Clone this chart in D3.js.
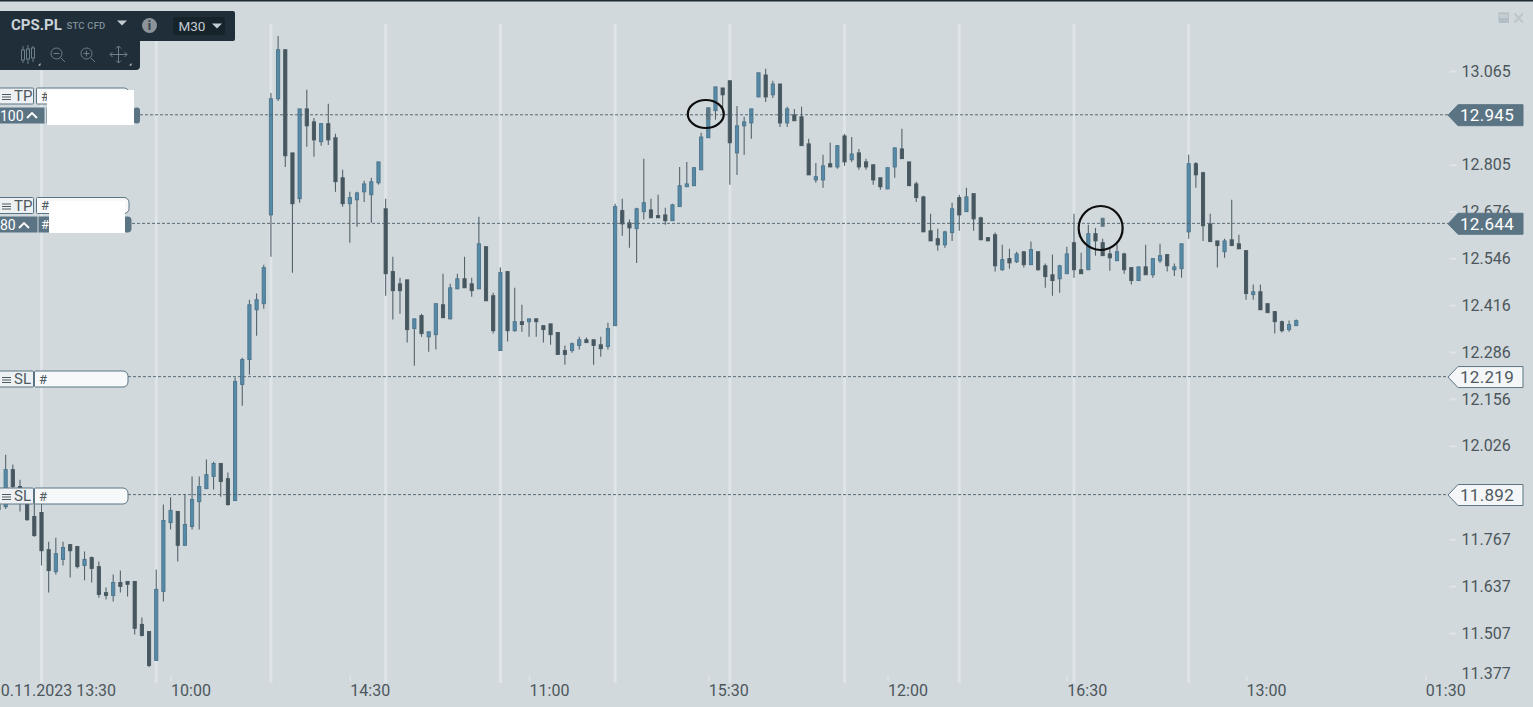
<!DOCTYPE html>
<html><head><meta charset="utf-8">
<script src="https://cdn.jsdelivr.net/npm/d3@7/dist/d3.min.js"></script>
<style>
html,body{margin:0;padding:0;background:#d1d9dd;overflow:hidden}
svg{display:block;font-family:Roboto,sans-serif}
</style></head><body><svg id="c" width="1533" height="707"></svg>
<script>
const firstIndex=-6;
const opens=[11.862,11.857,11.960,11.913,11.868,11.830,11.841,11.738,11.677,11.711,
11.752,11.747,11.694,11.716,11.691,11.619,11.611,11.647,11.650,11.650,
11.531,11.511,11.431,11.622,11.813,11.844,11.750,11.802,11.871,11.907,
11.941,11.977,11.935,11.874,12.196,12.265,12.403,12.420,12.666,12.988,
13.124,12.838,12.711,12.960,12.924,12.869,12.919,12.880,12.769,12.697,
12.708,12.730,12.722,12.755,12.683,12.509,12.475,12.486,12.351,12.387,
12.328,12.334,12.417,12.378,12.461,12.489,12.475,12.461,12.578,12.442,
12.290,12.509,12.345,12.370,12.370,12.378,12.359,12.364,12.340,12.290,
12.290,12.304,12.320,12.320,12.306,12.301,12.359,12.678,12.644,12.628,
12.675,12.680,12.664,12.666,12.650,12.689,12.744,12.747,12.791,12.880,
12.955,13.018,13.038,12.838,12.913,12.921,12.993,13.054,12.999,13.029,
12.921,12.943,12.938,12.863,12.763,12.763,12.808,12.799,12.885,12.819,
12.838,12.813,12.805,12.769,12.738,12.799,12.849,12.813,12.752,12.716,
12.622,12.600,12.583,12.617,12.714,12.675,12.725,12.658,12.603,12.611,
12.514,12.545,12.536,12.564,12.528,12.564,12.525,12.500,12.489,12.503,
12.589,12.514,12.514,12.614,12.589,12.558,12.539,12.558,12.520,12.484,
12.522,12.500,12.539,12.556,12.514,12.517,12.619,12.808,12.783,12.641,
12.594,12.564,12.597,12.586,12.567,12.445,12.453,12.420,12.398,12.370,
12.348,12.359];
const closes=[11.849,11.960,11.913,11.885,11.821,11.777,11.735,11.680,11.727,11.744,
11.735,11.691,11.711,11.686,11.614,11.611,11.647,11.636,11.642,11.520,
11.500,11.417,11.628,11.819,11.847,11.750,11.808,11.877,11.913,11.946,
11.977,11.927,11.863,12.204,12.265,12.417,12.431,12.520,12.988,13.124,
12.830,12.697,12.960,12.913,12.874,12.919,12.874,12.758,12.697,12.714,
12.727,12.752,12.758,12.813,12.503,12.456,12.456,12.348,12.378,12.337,
12.342,12.420,12.381,12.464,12.489,12.464,12.456,12.586,12.428,12.345,
12.506,12.345,12.370,12.362,12.378,12.370,12.348,12.334,12.279,12.279,
12.309,12.320,12.312,12.304,12.295,12.351,12.689,12.641,12.630,12.683,
12.700,12.658,12.658,12.650,12.694,12.747,12.752,12.797,12.882,12.963,
13.021,12.999,12.866,12.913,12.924,12.960,13.060,12.993,13.029,12.921,
12.960,12.927,12.858,12.777,12.772,12.802,12.799,12.858,12.813,12.835,
12.799,12.799,12.763,12.744,12.797,12.852,12.822,12.747,12.714,12.619,
12.594,12.583,12.619,12.683,12.666,12.716,12.655,12.597,12.594,12.525,
12.542,12.533,12.558,12.528,12.570,12.514,12.495,12.484,12.525,12.558,
12.514,12.503,12.614,12.594,12.553,12.547,12.564,12.514,12.484,12.522,
12.500,12.545,12.553,12.525,12.522,12.586,12.808,12.777,12.636,12.592,
12.581,12.594,12.581,12.572,12.448,12.453,12.403,12.395,12.370,12.345,
12.362,12.373];
const highs=[11.862,12.001,11.974,11.932,11.904,11.868,11.868,11.760,11.771,11.760,
11.752,11.747,11.733,11.719,11.705,11.633,11.669,11.680,11.650,11.650,
11.550,11.511,11.683,11.863,11.883,11.844,11.891,11.941,11.941,11.988,
11.982,11.977,11.952,12.215,12.270,12.431,12.448,12.528,13.004,13.162,
13.124,12.838,12.960,13.013,12.935,12.921,12.974,12.891,12.791,12.730,
12.730,12.761,12.769,12.813,12.711,12.550,12.492,12.486,12.378,12.392,
12.342,12.420,12.503,12.475,12.503,12.550,12.492,12.661,12.578,12.450,
12.520,12.509,12.464,12.417,12.378,12.378,12.359,12.364,12.340,12.304,
12.312,12.328,12.326,12.320,12.328,12.367,12.697,12.711,12.653,12.686,
12.822,12.711,12.722,12.686,12.697,12.799,12.813,12.797,12.894,12.963,
13.021,13.018,13.038,12.968,12.938,12.960,13.060,13.071,13.038,13.029,
12.966,12.960,12.966,12.877,12.810,12.833,12.866,12.860,12.891,12.882,
12.849,12.822,12.805,12.769,12.797,12.852,12.905,12.813,12.758,12.719,
12.669,12.628,12.622,12.700,12.722,12.741,12.725,12.661,12.605,12.617,
12.583,12.572,12.564,12.564,12.592,12.564,12.531,12.556,12.528,12.578,
12.669,12.561,12.639,12.630,12.600,12.572,12.592,12.561,12.520,12.522,
12.583,12.545,12.586,12.558,12.531,12.586,12.833,12.813,12.786,12.669,
12.594,12.600,12.708,12.611,12.567,12.473,12.473,12.420,12.398,12.373,
12.373,12.376];
const lows=[11.849,11.851,11.904,11.844,11.818,11.774,11.694,11.619,11.669,11.694,
11.661,11.686,11.653,11.647,11.605,11.600,11.594,11.619,11.608,11.503,
11.497,11.412,11.431,11.594,11.794,11.705,11.750,11.794,11.794,11.907,
11.905,11.885,11.860,11.874,12.137,12.223,12.331,12.406,12.550,12.982,
12.799,12.506,12.700,12.855,12.827,12.858,12.860,12.730,12.689,12.589,
12.633,12.702,12.644,12.750,12.442,12.376,12.392,12.312,12.248,12.328,
12.287,12.293,12.381,12.376,12.461,12.464,12.439,12.461,12.428,12.337,
12.290,12.315,12.342,12.342,12.328,12.328,12.312,12.306,12.279,12.251,
12.284,12.293,12.312,12.251,12.273,12.293,12.359,12.608,12.575,12.533,
12.653,12.658,12.658,12.639,12.650,12.689,12.744,12.747,12.791,12.880,
12.930,12.949,12.750,12.777,12.833,12.877,12.993,12.979,12.990,12.910,
12.910,12.927,12.858,12.777,12.755,12.741,12.799,12.794,12.802,12.813,
12.791,12.791,12.750,12.736,12.738,12.769,12.822,12.747,12.702,12.619,
12.594,12.567,12.575,12.594,12.622,12.675,12.622,12.597,12.594,12.509,
12.511,12.517,12.533,12.520,12.528,12.511,12.464,12.442,12.450,12.503,
12.492,12.503,12.514,12.553,12.553,12.511,12.539,12.503,12.473,12.484,
12.500,12.492,12.533,12.509,12.497,12.492,12.600,12.741,12.594,12.592,
12.520,12.547,12.581,12.572,12.431,12.431,12.403,12.395,12.337,12.340,
12.342,12.359];
const markedIndex=[93,148];
const markedTop=[12.963,12.658];
const markedBottom=[12.930,12.633];
const gridEvery=16, gridCount=11;
const priceTicks=[13.065,12.805,12.676,12.546,12.416,12.286,12.156,12.026,11.767,11.637,11.507,11.377];
const timeTickIndex=[-7,18,43,68,93,118,143,168,193];
const timeLabels=["10.11.2023 13:30","10:00","14:30","11:00","15:30","12:00","16:30","13:00","01:30"];
const tagPrices=[12.945,12.644,12.219,11.892];
const tagFilled=[true,true,false,false];
const tagText=["12.945","12.644","12.219","11.892"];

const BLUE="#558aa8",BLUEEDGE="#4c7489",DARK="#47575f",WICK="#55636b",SLATE="#5b7484",GRID="#dee4e7",INK="#4c565b";
const svg=d3.select("#c");
svg.append("rect").attr("width",1533).attr("height",707).attr("fill","#d1d9dd");
svg.append("rect").attr("width",1533).attr("height",1.5).attr("fill","#1d2a32");
const x=d3.scaleLinear().domain([0,160]).range([41.5,1188.7]);
const y=d3.scaleLinear().domain([13.065,11.507]).range([71,633]);

// grid
svg.append("g").selectAll("line").data(d3.range(gridCount).map(i=>i*gridEvery)).join("line")
 .attr("x1",d=>x(d)).attr("x2",d=>x(d)).attr("y1",24).attr("y2",683)
 .attr("stroke",GRID).attr("stroke-width",3);

// candles
const idx=d3.range(opens.length);
const g=svg.append("g");
g.selectAll("line").data(idx).join("line")
 .attr("x1",i=>x(i+firstIndex)).attr("x2",i=>x(i+firstIndex))
 .attr("y1",i=>y(highs[i])).attr("y2",i=>y(lows[i]))
 .attr("stroke",WICK).attr("stroke-width",1.1);
g.selectAll("rect").data(idx).join("rect")
 .attr("x",i=>x(i+firstIndex)-1.6).attr("width",3.2)
 .attr("y",i=>y(Math.max(opens[i],closes[i])))
 .attr("height",i=>Math.max(1,Math.abs(y(opens[i])-y(closes[i]))))
 .attr("fill",i=>closes[i]>opens[i]?BLUE:DARK)
 .attr("stroke",i=>closes[i]>opens[i]?BLUEEDGE:DARK).attr("stroke-width",0.9);
svg.append("g").selectAll("rect").data(markedIndex).join("rect")
 .attr("x",d=>x(d)-2).attr("width",4)
 .attr("y",(d,k)=>y(markedTop[k])).attr("height",(d,k)=>y(markedBottom[k])-y(markedTop[k]))
 .attr("fill","#5f7886");

// dashed lines
svg.append("g").selectAll("line").data(tagPrices).join("line")
 .attr("x1",(d,k)=>[140,132,128,128][k]).attr("x2",1450)
 .attr("y1",d=>y(d)+.5).attr("y2",d=>y(d)+.5)
 .attr("stroke","#4b5e69").attr("stroke-width",.9).attr("stroke-dasharray","3 2");

// right axis
const yAxis=d3.axisRight(y).tickValues(priceTicks).tickFormat(d3.format(".3f")).tickSize(0).tickPadding(0);
const ya=svg.append("g").attr("transform","translate(1461.5,0)").call(yAxis);
ya.select(".domain").remove();
ya.selectAll("text").attr("fill",INK).attr("font-size",16).attr("font-family","Roboto,sans-serif");
ya.selectAll(".tick").filter(d=>d===11.377).attr("transform","translate(0,673.5)");
ya.selectAll(".tick").append("line").attr("x1",-12).attr("x2",-5).attr("stroke",GRID).attr("stroke-width",2)
 .filter(d=>d===11.377).remove();

// bottom axis
const xAxis=d3.axisBottom(x).tickValues(timeTickIndex).tickFormat((d,k)=>timeLabels[k]).tickSize(0).tickPadding(0);
const xa=svg.append("g").attr("transform","translate(0,679)").call(xAxis);
xa.select(".domain").remove();
xa.selectAll("text").attr("fill",INK).attr("font-size",16).attr("font-family","Roboto,sans-serif")
 .attr("text-anchor","start").attr("dx",0).attr("y",1).attr("dy","1em");
xa.selectAll(".tick").append("line").attr("y1",-3).attr("y2",2).attr("stroke",GRID).attr("stroke-width",1.5);

// price tags
const tags=svg.append("g").selectAll("g").data(tagPrices).join("g").attr("transform",d=>`translate(0,${y(d)+.4})`);
tags.append("path").attr("d","M1448,0.5L1458,-10H1523V11H1458Z")
 .attr("fill",(d,k)=>tagFilled[k]?SLATE:"#f4f6f7").attr("stroke",SLATE).attr("stroke-width",1);
tags.append("text").attr("x",1460).attr("y",6.5).attr("font-size",17).attr("letter-spacing",".3px")
 .attr("fill",(d,k)=>tagFilled[k]?"#fff":"#4e5a61").text((d,k)=>tagText[k]);

// order panels
const p=svg.append("g");
function box(x0,y0,w,h,fill,stroke,rx){return p.append("rect").attr("x",x0+.5).attr("y",y0+.5).attr("width",w).attr("height",h).attr("fill",fill).attr("stroke",stroke||"none").attr("rx",rx||0);}
function txt(x0,y0,s,size,fill,w){return p.append("text").attr("x",x0).attr("y",y0).attr("font-size",size).attr("fill",fill).attr("font-weight",w||400).text(s);}
function menu(x0,yc){[-2.5,0,2.5].forEach(o=>p.append("line").attr("x1",x0).attr("x2",x0+9).attr("y1",yc+o+1.5).attr("y2",yc+o+1.5).attr("stroke","#4e5a61").attr("stroke-width",1));}
function label(y0,kind,hashX,hashR){
  box(-3,y0,36,16,"#edf1f3",SLATE,1); menu(2,y0+8); txt(14,y0+13.5,kind,15,"#4e5a61");
  p.append("path").attr("d",`M${hashX+1.5},${y0+.5}H${hashR-5}a5,5 0 0 1 5,5v6a5,5 0 0 1 -5,5H${hashX+1.5}a1,1 0 0 1 -1,-1V${y0+1.5}a1,1 0 0 1 1,-1Z`)
   .attr("fill","#f6f8f9").attr("stroke",SLATE);
  txt(hashX+5,y0+13,"#",13,"#4e5a61");
}
// TP 100
box(133,107,6.5,16,SLATE,null,3);
label(87.5,"TP",36,129);
box(-3,107,47,16,SLATE);
txt(0,120.5,"100",14,"#fff",400);
p.append("path").attr("d","M27,118l5,-5l5,5").attr("fill","none").attr("stroke","#fff").attr("stroke-width",1.8);
box(46,107,3,16,SLATE);
p.append("rect").attr("x",47).attr("y",90).attr("width",87).attr("height",35).attr("fill","#fff");
// TP 80
box(122,216,9,16,SLATE,null,4);
label(197,"TP",36,129);
box(-3,216,40,16,SLATE);
txt(0,229.5,"80",14,"#fff",400);
p.append("path").attr("d","M19,228l5,-5l5,5").attr("fill","none").attr("stroke","#fff").attr("stroke-width",1.8);
box(38,216,11,16,SLATE); txt(41,229,"#",13,"#fff");
p.append("rect").attr("x",49).attr("y",201).attr("width",76).attr("height",32).attr("fill","#fff");
// SL
label(370.5,"SL",34,128);
label(487.5,"SL",34,128);

// annotation circles
svg.append("ellipse").attr("cx",x(93)-2.5).attr("cy",114).attr("rx",18).attr("ry",14).attr("fill","none").attr("stroke","#0d0d0d").attr("stroke-width",2.2);
svg.append("circle").attr("cx",x(148)-2).attr("cy",228).attr("r",22).attr("fill","none").attr("stroke","#0d0d0d").attr("stroke-width",2.2);

// header
const H="#1f2e38";
const h=svg.append("g");
h.append("rect").attr("x",-6).attr("y",11).attr("width",241).attr("height",30).attr("rx",2).attr("fill",H);
h.append("rect").attr("x",-6).attr("y",38).attr("width",146).attr("height",32).attr("rx",4).attr("fill",H);
h.append("text").attr("x",11).attr("y",29.5).attr("font-size",15).attr("font-weight",700).attr("fill","#c9d3d8").text("CPS.PL");
h.append("text").attr("x",66.5).attr("y",28.5).attr("font-size",9.5).attr("font-weight",500).attr("fill","#7f8f98").attr("letter-spacing",".2px").text("STC CFD");
h.append("path").attr("d","M117,20.5h10l-5,5Z").attr("fill","#c3ccd1");
h.append("circle").attr("cx",149.5).attr("cy",25.5).attr("r",7.5).attr("fill","#8c9499");
h.append("text").attr("x",149.5).attr("y",30).attr("font-size",12).attr("font-weight",900).attr("text-anchor","middle").attr("fill","#3b464d").text("i");
h.append("rect").attr("x",173).attr("y",17).attr("width",52).attr("height",18).attr("rx",2).attr("fill","#17232b");
h.append("text").attr("x",178.5).attr("y",31).attr("font-size",13.5).attr("fill","#c3ccd1").text("M30");
h.append("path").attr("d","M212,23.5h10l-5,5Z").attr("fill","#c3ccd1");
const ic="#6f7f88";
const icon=h.append("g").attr("fill","none").attr("stroke",ic).attr("stroke-width",1);
[[23,50,60,46,63],[28,49,59,45,64],[33,48,58,46,62]].forEach(a=>{
 icon.append("rect").attr("x",a[0]-1.5).attr("y",a[1]).attr("width",3).attr("height",a[2]-a[1]);
 icon.append("line").attr("x1",a[0]).attr("x2",a[0]).attr("y1",a[3]).attr("y2",a[1]);
 icon.append("line").attr("x1",a[0]).attr("x2",a[0]).attr("y1",a[2]).attr("y2",a[4]);
});
[[56.5,"-"],[86.5,"+"]].forEach(a=>{
 icon.append("circle").attr("cx",a[0]).attr("cy",53.5).attr("r",5.5);
 icon.append("line").attr("x1",a[0]+4).attr("x2",a[0]+8.5).attr("y1",57.5).attr("y2",62);
 icon.append("line").attr("x1",a[0]-3).attr("x2",a[0]+3).attr("y1",53.5).attr("y2",53.5);
 if(a[1]==="+")icon.append("line").attr("x1",a[0]).attr("x2",a[0]).attr("y1",50.5).attr("y2",56.5);
});
icon.append("line").attr("x1",110).attr("x2",127).attr("y1",54.5).attr("y2",54.5);
icon.append("line").attr("x1",118.5).attr("x2",118.5).attr("y1",46).attr("y2",63);
icon.append("path").attr("d","M112.5,52l-2.5,2.5l2.5,2.5M124.5,52l2.5,2.5l-2.5,2.5M116,48.5l2.5,-2.5l2.5,2.5M116,60.5l2.5,2.5l2.5,-2.5");
h.append("path").attr("d","M38,65.5h2.5v-2.5ZM129,65.5h2.5v-2.5Z").attr("fill","#c3ccd1");

// window icons
svg.append("rect").attr("x",1498.5).attr("y",12.5).attr("width",10.5).attr("height",10.5).attr("fill","#b3bec4");
svg.append("rect").attr("x",1499.5).attr("y",14).attr("width",8.5).attr("height",4).attr("fill","#c4cdd2");
svg.append("path").attr("d","M1514.5,13.5l8.5,9M1523,13.5l-8.5,9").attr("stroke","#bcc6cb").attr("stroke-width",2);
</script></body></html>
